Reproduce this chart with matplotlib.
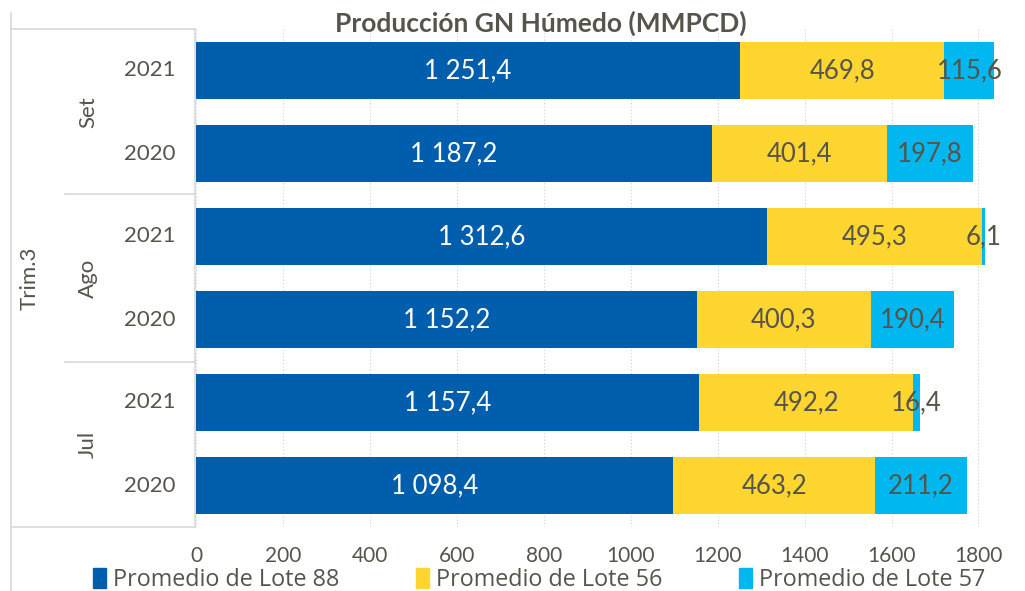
import matplotlib.pyplot as plt
from matplotlib.lines import Line2D
from matplotlib.patches import Patch

plt.rcParams['font.family'] = ['Lato', 'DejaVu Sans']

# data, top bar first
years = ['2021', '2020', '2021', '2020', '2021', '2020']
months = ['Set', 'Ago', 'Jul']
quarter = 'Trim.3'
lote88 = [1251.4, 1187.2, 1312.6, 1152.2, 1157.4, 1098.4]
lote56 = [469.8, 401.4, 495.3, 400.3, 492.2, 463.2]
lote57 = [115.6, 197.8, 6.1, 190.4, 16.4, 211.2]
series_names = ['Promedio de Lote 88', 'Promedio de Lote 56', 'Promedio de Lote 57']
ticks = [0, 200, 400, 600, 800, 1000, 1200, 1400, 1600, 1800]

colors = ['#005EAC', '#FFD530', '#00B7F0']
txt = '#57544b'
W, H = 1025, 591


def fmt(v):
    s = f'{v:,.1f}'
    return s.replace(',', ' ').replace('.', ',')


fig = plt.figure(figsize=(W / 100, H / 100), dpi=100)
ax = fig.add_axes([196 / W, 1 - 527 / H, (W - 196) / W, (527 - 29) / H])

y = list(range(len(years)))
left = [0] * len(years)
for vals, c in zip([lote88, lote56, lote57], colors):
    ax.barh(y, vals, left=left, height=0.675, color=c, zorder=3)
    for i, v in enumerate(vals):
        tc = 'white' if c == colors[0] else txt
        ax.text(left[i] + v / 2, i, fmt(v), ha='center', va='center',
                fontsize=18.5, color=tc, zorder=4)
    left = [a + b for a, b in zip(left, vals)]

ax.set_ylim(len(years) - 0.5, -0.5)
ax.set_xlim(0, (W - 196) / 0.4347)
ax.set_xticks(ticks)
ax.set_xticklabels([str(t) for t in ticks], fontsize=15, color=txt)
ax.tick_params(axis='x', length=0, pad=14)
ax.set_yticks([])
ax.grid(axis='x', color='#d0d0d0', linestyle=(0, (1, 2)), linewidth=0.8, zorder=0)
for s in ax.spines.values():
    s.set_visible(False)

fig.text(541 / W, 1 - 23 / H, 'Producción GN Húmedo (MMPCD)', fontsize=19,
         fontweight='bold', color=txt, ha='center', va='center')

# multi-level category axis
def px(x, yy):
    return x / W, 1 - yy / H

lc = '#d9d9d9'
segs = [((11, 13), (11, 591)), ((11, 29), (195, 29)), ((195, 29), (195, 527)),
        ((65, 194), (195, 194)), ((65, 362), (195, 362)), ((11, 527), (195, 527))]
for a, b in segs:
    (x0, y0), (x1, y1) = px(*a), px(*b)
    fig.add_artist(Line2D([x0, x1], [y0, y1], color=lc, linewidth=1.2))

for i, yr in enumerate(years):
    fig.text(*px(150, 29 + 83 * i + 41.5), yr, ha='center', va='center',
             fontsize=16, color=txt)
for j, m in enumerate(months):
    fig.text(*px(88, 29 + 166 * j + 83), m, ha='center', va='center',
             rotation=90, fontsize=16, color=txt)
fig.text(*px(30, 278), quarter, ha='center', va='center', rotation=90,
         fontsize=16, color=txt)

handles = [Patch(color=c) for c in colors]
fig.legend(handles, series_names, loc='center', bbox_to_anchor=(539 / W, 1 - 580 / H),
           ncol=3, frameon=False, prop={'family': 'Open Sans', 'size': 16.8},
           labelcolor=txt, handlelength=0.55, handleheight=0.95, handletextpad=0.3,
           columnspacing=3.3, borderpad=0)

fig.savefig('out.png', dpi=100)
